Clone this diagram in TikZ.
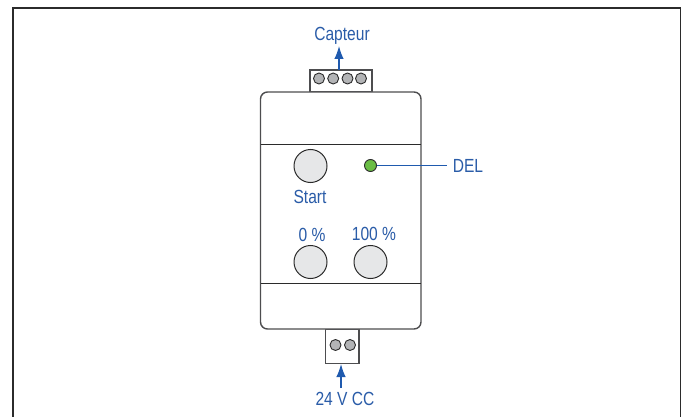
\documentclass[tikz,border=0pt]{standalone}
\usepackage{fontspec}
\setmainfont{Liberation Sans}[FakeStretch=0.82]
\usetikzlibrary{arrows.meta}
\definecolor{lblue}{HTML}{2A5CA8}
\definecolor{ablue}{HTML}{1F5AAE}
\definecolor{edge}{HTML}{4D4D4F}
\definecolor{dark}{HTML}{2B2B2B}
\definecolor{ledg}{HTML}{6ABD45}
\definecolor{ping}{HTML}{B3B4B6}
\definecolor{btng}{HTML}{E6E7E8}
\tikzset{
  lbl/.style={text=lblue,font=\fontsize{19}{22}\selectfont,inner sep=0pt,anchor=center},
  body/.style={draw=edge,line width=1.4pt,fill=white},
  sep/.style={draw=dark,line width=1pt},
  pin/.style={circle,draw=dark,fill=ping,line width=0.9pt,minimum size=11pt,inner sep=0pt},
  btn/.style={circle,draw=dark,fill=btng,line width=1pt,minimum size=33pt,inner sep=0pt},
  led/.style={circle,draw=dark,fill=ledg,line width=0.9pt,minimum size=12pt,inner sep=0pt},
  conn/.style={draw=ablue,line width=1.3pt},
  leader/.style={draw=ablue,line width=1.6pt},
  arr/.style={conn,-{Latex[length=13pt,width=9.5pt]}},
}
\begin{document}
\begin{tikzpicture}[x=1pt,y=-1pt]
\useasboundingbox (0,0) rectangle (687,417);
\draw[draw=dark,line width=1.6pt] (13,417) -- (13,8) -- (680.5,8) -- (680.5,417);
% connectors
\node[body,rectangle,minimum width=62pt,minimum height=22pt,inner sep=0pt] (topc) at (341,81) {};
\node[body,rectangle,minimum width=33.5pt,minimum height=34.5pt,inner sep=0pt] (botc) at (342.25,346.5) {};
% body
\node[body,draw,rectangle,rounded corners=7pt,minimum width=160.5pt,minimum height=237pt,inner sep=0pt] (dev) at (340.75,210.5) {};
\coordinate (s1l) at (260.5,144.5); \coordinate (s1r) at (421,144.5);
\coordinate (s2l) at (260.5,283.5); \coordinate (s2r) at (421,283.5);
\draw[sep] (s1l) -- (s1r);
\draw[sep] (s2l) -- (s2r);
% pins
\node[pin] (p1) at (319,78.5) {};
\node[pin] (p2) at (333.2,78.5) {};
\node[pin] (p3) at (347.5,78.5) {};
\node[pin] (p4) at (361,78.5) {};
\node[pin] (q1) at (335.5,345) {};
\node[pin] (q2) at (350,345) {};
% buttons
\node[btn] (start) at (310.5,166) {};
\node[btn] (zero) at (310.5,262) {};
\node[btn] (full) at (370.5,262) {};
\node[led] (led) at (370.5,165.5) {};
% labels
\node[lbl] (capteur) at (342,36) {Capteur};
\node[lbl] (del) at (468,165.5) {DEL};
\node[lbl] (stl) at (310,197) {Start};
\node[lbl] (zl) at (312,235) {0 \%};
\node[lbl] (fl) at (374,234) {100 \%};
\node[lbl] (vcc) at (345,399) {24 V CC};
% leaders
\coordinate (delend) at (447,165.5);
\coordinate (atop) at (339,46);
\coordinate (atopb) at (339,70);
\coordinate (abot) at (341,364);
\coordinate (abotb) at (341,388);
\draw[leader] (led.east) -- (delend);
\draw[arr] (atopb) -- (atop);
\draw[arr] (abotb) -- (abot);
\end{tikzpicture}
\end{document}
